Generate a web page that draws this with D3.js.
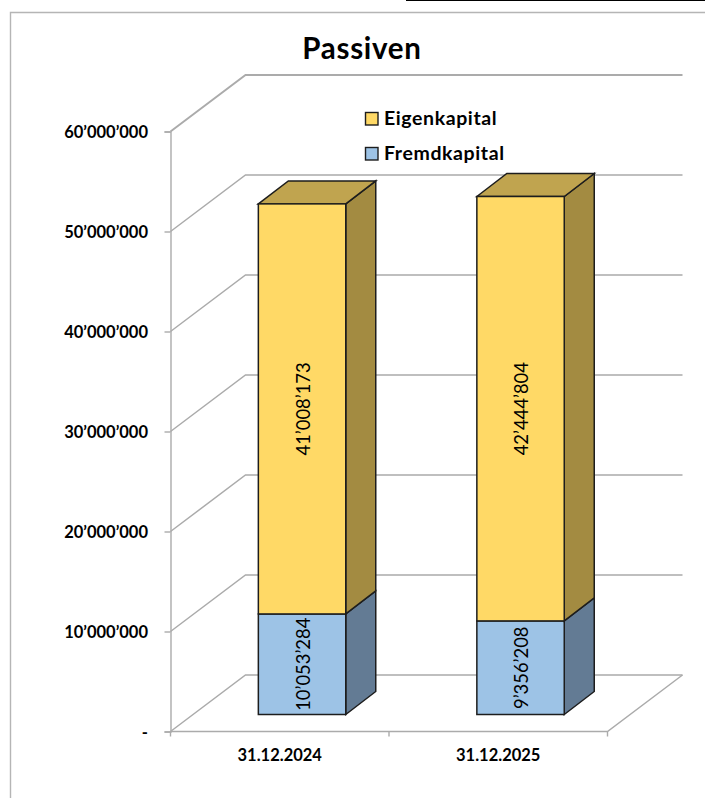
<!DOCTYPE html>
<html>
<head>
<meta charset="utf-8">
<script src="https://cdn.jsdelivr.net/npm/d3@7"></script>
<style>
  html, body { margin: 0; padding: 0; background: #fff; overflow: hidden; }
  svg { display: block; }
  text { font-family: Lato, "Open Sans", sans-serif; fill: #000; }
  .tick text { font-weight: 700; font-size: 16.5px; }
</style>
</head>
<body>
<svg id="chart"></svg>
<script>
const dates = ["31.12.2024", "31.12.2025"];
const fremdkapital = [10053284, 9356208];
const eigenkapital = [41008173, 42444804];
const yTicks = [0, 10000000, 20000000, 30000000, 40000000, 50000000, 60000000];
const legendNames = ["Eigenkapital", "Fremdkapital"];

const width = 705, height = 798;
const plotLeft = 170.5, plotRight = 607.5, plotBottom = 731.5, plotTop = 131.5;
// depth of the floor / back wall
const wallDx = 75, wallDy = -56.5;
// depth of a bar and where it stands on the floor
const barDx = 30, barDy = -23, floorDy = -17;
const floorDx = 22.3;

const yellow = "#ffd966", yellowTop = "#c0a44f", yellowSide = "#a38b41";
const blue = "#9dc3e6", blueSide = "#637b94";
const grid = "#ababab";

const svg = d3.select("#chart").attr("width", width).attr("height", height);

const x = d3.scaleBand().domain(dates).range([plotLeft, plotRight]).paddingInner(0).paddingOuter(0);
const y = d3.scaleLinear().domain([0, 60000000]).range([plotBottom, plotTop]);
const barW = x.bandwidth() * 0.4;

const fmt = v => v === 0 ? "-" : d3.format(",")(v).replace(/,/g, "’");

// chart frame, runs off the picture
svg.append("path")
    .attr("d", `M10.5,${height}V12.5H${width}`)
    .attr("fill", "none").attr("stroke", "#b5b5b5").attr("stroke-width", 1.4);
svg.append("line")
    .attr("x1", 406).attr("x2", width).attr("y1", 0.2).attr("y2", 0.2)
    .attr("stroke", "#000").attr("stroke-width", 1.5);

// gridlines: wall part and side wall diagonal
svg.append("g").selectAll("path")
    .data(yTicks)
    .join("path")
    .attr("d", d => `M${plotLeft},${y(d)}L${plotLeft + wallDx},${y(d) + wallDy}H${plotRight + wallDx}`)
    .attr("fill", "none")
    .attr("stroke", grid)
    .attr("stroke-width", d => d === 60000000 ? 1.9 : 1.5);

// floor front and right edge
svg.append("path")
    .attr("d", `M${plotLeft},${plotBottom}H${plotRight}L${plotRight + wallDx},${plotBottom + wallDy}`)
    .attr("fill", "none").attr("stroke", grid).attr("stroke-width", 1.5);

// y axis
const yAxis = svg.append("g")
    .attr("transform", `translate(${plotLeft},0)`)
    .call(d3.axisLeft(y).tickValues(yTicks).tickFormat(fmt).tickSize(6).tickPadding(16.5));
yAxis.selectAll("path, line").attr("stroke", grid).attr("stroke-width", 1.4);
yAxis.selectAll("text").attr("dy", "0.39em");

// x axis: ticks sit on the category boundaries
const xAxis = svg.append("g")
    .attr("transform", `translate(0,${plotBottom})`)
    .call(d3.axisBottom(x).tickSize(0).tickPadding(18));
xAxis.select(".domain").remove();
xAxis.selectAll("text").attr("dy", "0.71em");
xAxis.selectAll("line.edge")
    .data([plotLeft, plotLeft + x.bandwidth(), plotRight])
    .join("line")
    .attr("class", "edge")
    .attr("x1", d => d).attr("x2", d => d)
    .attr("y1", 0).attr("y2", 5)
    .attr("stroke", grid).attr("stroke-width", 1.4);

// one 3d block per stacked segment
function block(g, x0, v0, v1, front, side, topFill) {
    const xl = x0, xr = x0 + barW;
    const yb = y(v0) + floorDy, yt = y(v1) + floorDy;
    const stroke = "#1d1d1d";
    g.append("path")
        .attr("d", `M${xr},${yb}L${xr + barDx},${yb + barDy}V${yt + barDy}L${xr},${yt}Z`)
        .attr("fill", side).attr("stroke", stroke).attr("stroke-width", 1.5);
    if (topFill) {
        g.append("path")
            .attr("d", `M${xl},${yt}L${xl + barDx},${yt + barDy}H${xr + barDx}L${xr},${yt}Z`)
            .attr("fill", topFill).attr("stroke", stroke).attr("stroke-width", 1.5);
    }
    g.append("rect")
        .attr("x", xl).attr("y", yt)
        .attr("width", barW).attr("height", yb - yt)
        .attr("fill", front).attr("stroke", stroke).attr("stroke-width", 1.5);
}

function valueLabel(g, cx, cy, v) {
    g.append("text")
        .attr("transform", `translate(${cx},${cy}) rotate(-90)`)
        .attr("text-anchor", "middle")
        .attr("dy", "0.36em")
        .attr("font-size", 18.4)
        .text(fmt(v));
}

const bars = svg.append("g");
dates.forEach((d, i) => {
    const x0 = x(d) + floorDx + (x.bandwidth() - barW) / 2;
    const total = fremdkapital[i] + eigenkapital[i];
    block(bars, x0, 0, fremdkapital[i], blue, blueSide, null);
    block(bars, x0, fremdkapital[i], total, yellow, yellowSide, yellowTop);
    const cx = x0 + barW / 2 + 1;
    valueLabel(bars, cx, y(fremdkapital[i] + eigenkapital[i] / 2) + floorDy, eigenkapital[i]);
    valueLabel(bars, cx, y(fremdkapital[i] / 2) + floorDy, fremdkapital[i]);
});

// title
svg.append("text")
    .attr("x", 362).attr("y", 59)
    .attr("text-anchor", "middle")
    .attr("font-size", 29.5).attr("letter-spacing", 0.7).attr("font-weight", 700)
    .text("Passiven");

// legend
const legendColors = [yellow, blue];
const legendY = d3.scalePoint().domain(legendNames).range([118, 153]);
const legend = svg.append("g").selectAll("g")
    .data(legendNames)
    .join("g")
    .attr("transform", d => `translate(365,${legendY(d)})`);
legend.append("rect")
    .attr("x", 0.5).attr("y", -5.5)
    .attr("width", 12.5).attr("height", 12.5)
    .attr("fill", (d, i) => legendColors[i])
    .attr("stroke", "#1d1d1d").attr("stroke-width", 1.4);
legend.append("text")
    .attr("x", 19).attr("y", 7)
    .attr("font-size", 19.5).attr("letter-spacing", 0.6).attr("font-weight", 700)
    .text(d => d);
</script>
</body>
</html>
